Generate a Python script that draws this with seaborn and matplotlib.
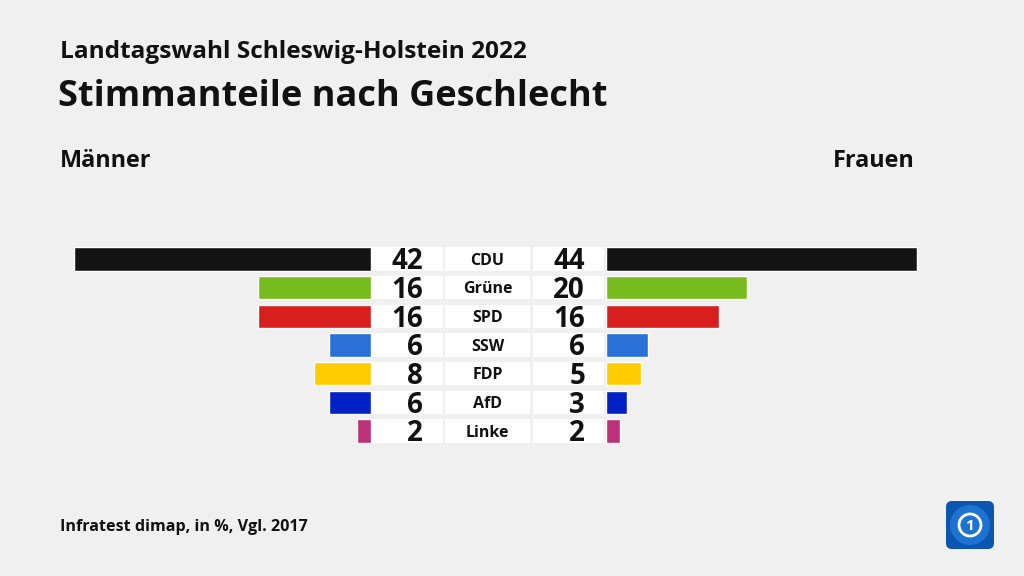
import matplotlib
matplotlib.use("Agg")
import matplotlib.pyplot as plt
import pandas as pd
import seaborn as sns
from matplotlib.patches import FancyBboxPatch, Circle

# ---------------- data ----------------
PARTIES = ["CDU", "Grüne", "SPD", "SSW", "FDP", "AfD", "Linke"]
MAENNER = [42, 16, 16, 6, 8, 6, 2]
FRAUEN = [44, 20, 16, 6, 5, 3, 2]
COLORS = ["#141414", "#78bb1e", "#d71f1d", "#2a70d6", "#fecc00", "#0021c6", "#bd3177"]

TITLE = "Stimmanteile nach Geschlecht"
SUPTITLE = "Landtagswahl Schleswig-Holstein 2022"
SOURCE = "Infratest dimap, in %, Vgl. 2017"

BG = "#f0f0f0"
W, H = 1024, 576
XMAX = 46

sns.set_theme(style="white")
plt.rcParams["font.family"] = ["Open Sans", "DejaVu Sans"]

df = pd.DataFrame({"party": PARTIES, "m": MAENNER, "f": FRAUEN})
palette = dict(zip(PARTIES, COLORS))

fig = plt.figure(figsize=(W / 100, H / 100), dpi=100, facecolor=BG)

# vertical placement of the bar block (pixel rows 244.7 .. 445.3)
top_px, bot_px = 244.7, 445.3
ybot = 1 - bot_px / H
yh = (bot_px - top_px) / H
px_per_unit = 7.07


def px_axes(left_px, width_px):
    ax = fig.add_axes([left_px / W, ybot, width_px / W, yh])
    ax.set_facecolor("none")
    return ax


axL = px_axes(371 - XMAX * px_per_unit, XMAX * px_per_unit)
axR = px_axes(605.5, XMAX * px_per_unit)
axC = px_axes(371, 234)

for ax, col in [(axL, "m"), (axR, "f")]:
    sns.barplot(data=df, x=col, y="party", hue="party", palette=palette,
                orient="h", width=0.82, saturation=1, legend=False, ax=ax)
axL.set_xlim(XMAX, 0)
axR.set_xlim(0, XMAX)

# center: white label boxes, numbers, party names
ypos = range(len(PARTIES))
for x0, x1 in [(0.0, 0.306), (0.318, 0.679), (0.691, 0.994)]:
    axC.barh(list(ypos), [x1 - x0] * len(PARTIES), left=x0, height=0.82,
             color="white", linewidth=0)
axC.set_xlim(0, 1)
for i, (p, m, f) in enumerate(zip(PARTIES, MAENNER, FRAUEN)):
    axC.text(0.222, i + 0.36, str(m), ha="right", va="baseline", fontsize=20,
             fontweight="bold", color="#111111")
    axC.text(0.915, i + 0.36, str(f), ha="right", va="baseline", fontsize=20,
             fontweight="bold", color="#111111")
    axC.text(0.498, i + 0.2, p, ha="center", va="baseline", fontsize=11.5,
             fontweight="bold", color="#111111")

for ax in (axL, axR, axC):
    ax.set_ylim(len(PARTIES) - 0.5, -0.5)
    ax.set_axis_off()

# titles
fig.text(60 / W, 1 - 52 / H, SUPTITLE, fontsize=17.6, fontweight="bold",
         ha="left", va="center", color="#111111")
fig.text(58 / W, 1 - 97 / H, TITLE, fontsize=26, fontweight="bold",
         ha="left", va="center", color="#111111")
fig.text(60 / W, 1 - 161 / H, "Männer", fontsize=16.8, fontweight="bold",
         ha="left", va="center", color="#111111")
fig.text(915 / W, 1 - 161 / H, "Frauen", fontsize=16.8, fontweight="bold",
         ha="right", va="center", color="#111111")
fig.text(60 / W, 1 - 527 / H, SOURCE, fontsize=11.6, fontweight="bold",
         ha="left", va="center", color="#111111")

# broadcaster logo
axLogo = fig.add_axes([945 / W, 1 - 550 / H, 50 / W, 50 / H])
axLogo.set_xlim(0, 1)
axLogo.set_ylim(0, 1)
axLogo.set_axis_off()
axLogo.add_patch(FancyBboxPatch((0.02, 0.02), 0.96, 0.96,
                                boxstyle="round,pad=0,rounding_size=0.12",
                                facecolor="#0a56b0", edgecolor="none"))
axLogo.add_patch(Circle((0.5, 0.5), 0.4, facecolor="#1e73d0", edgecolor="none"))
axLogo.add_patch(Circle((0.5, 0.5), 0.22, facecolor="none", edgecolor="white", linewidth=2))
axLogo.text(0.5, 0.49, "1", ha="center", va="center", fontsize=11,
            fontweight="bold", color="white")

fig.savefig("out.png", dpi=100, facecolor=BG)
